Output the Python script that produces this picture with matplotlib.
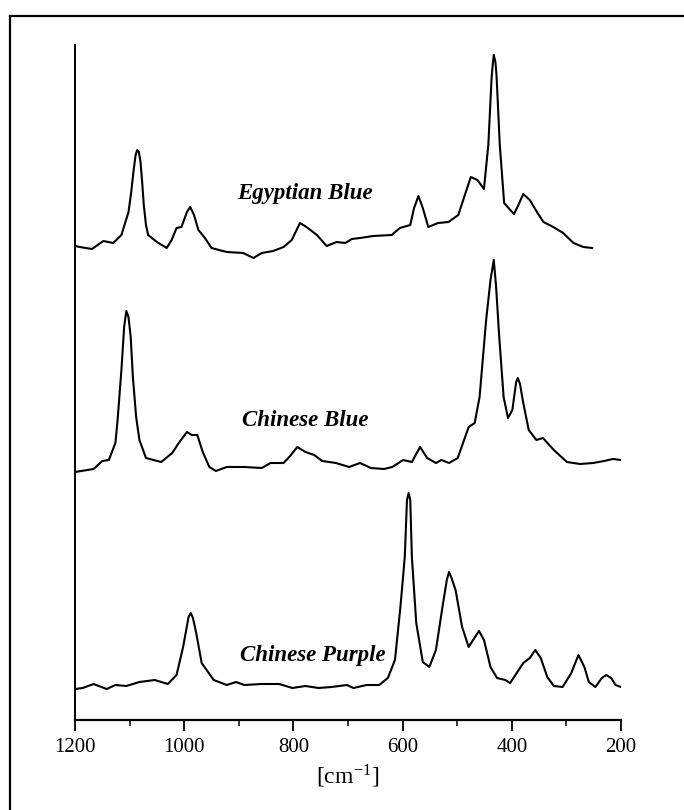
import matplotlib
matplotlib.use("Agg")
import matplotlib.pyplot as plt
from matplotlib.lines import Line2D
from matplotlib.ticker import MultipleLocator

plt.rcParams.update({
    "font.family": "Liberation Serif",
    "mathtext.fontset": "stix",
})

# Raman spectra (wavenumber in cm^-1, intensity in arb. units)
egyptian_wn = [1200, 1191, 1169, 1148, 1130, 1115, 1102, 1097, 1093, 1089, 1086, 1083,
               1080, 1077, 1074, 1070, 1066, 1050, 1032, 1023, 1014, 1005, 995, 989,
               982, 974, 962, 950, 922, 892, 873, 858, 837, 818, 803, 788, 776, 757,
               739, 721, 705, 693, 678, 654, 620, 605, 586, 579, 571, 563, 553, 535,
               516, 498, 486, 475, 463, 451, 443, 437, 435, 433, 430, 428, 422, 414,
               406, 396, 388, 379, 367, 354, 342, 324, 306, 287, 269, 253]
egyptian_int = [474, 473, 471, 479, 477, 485, 508, 528, 548, 565, 570, 568, 558, 538,
                515, 495, 485, 478, 472, 480, 492, 493, 508, 513, 505, 490, 482, 472,
                468, 467, 462, 467, 469, 473, 480, 497, 493, 485, 474, 478, 477, 481,
                482, 484, 485, 492, 495, 512, 524, 512, 493, 497, 498, 505, 525, 543,
                540, 531, 575, 642, 655, 665, 658, 645, 575, 517, 512, 506, 515, 526,
                520, 508, 498, 493, 487, 477, 473, 472]

chinese_blue_wn = [1200, 1166, 1150, 1138, 1126, 1122, 1115, 1110, 1106, 1102, 1098,
                   1094, 1088, 1082, 1070, 1042, 1022, 1010, 995, 986, 976, 966, 954,
                   942, 922, 890, 858, 842, 818, 806, 793, 778, 762, 747, 722, 698, 678,
                   658, 634, 619, 599, 583, 568, 555, 539, 529, 515, 499, 479, 468, 459,
                   447, 439, 433, 429, 423, 415, 407, 399, 392, 389, 385, 379, 369, 355,
                   343, 323, 299, 275, 251, 231, 215, 200]
chinese_blue_int = [248, 251, 259, 260, 277, 300, 350, 393, 409, 403, 383, 343, 303,
                    280, 262, 258, 267, 277, 288, 285, 285, 268, 253, 249, 253, 253,
                    252, 257, 257, 264, 273, 268, 265, 259, 257, 253, 257, 252, 251,
                    253, 260, 258, 273, 262, 257, 260, 257, 262, 293, 297, 323, 400,
                    440, 460, 435, 383, 323, 302, 310, 338, 342, 336, 317, 290, 280,
                    282, 270, 258, 256, 257, 259, 261, 260]

purple_wn = [1200, 1186, 1166, 1142, 1126, 1106, 1082, 1054, 1030, 1014, 1002, 992,
             988, 984, 978, 968, 946, 922, 905, 890, 858, 826, 802, 778, 754, 730, 702,
             690, 666, 643, 627, 614, 604, 596, 592, 589, 586, 583, 575, 563, 551, 539,
             527, 519, 515, 511, 503, 491, 479, 471, 460, 451, 439, 427, 412, 403, 391,
             379, 367, 357, 347, 335, 323, 307, 291, 278, 267, 259, 247, 235, 227, 218,
             210, 200]
purple_int = [31, 32, 36, 31, 35, 34, 38, 40, 36, 45, 73, 103, 107, 102, 87, 57, 40,
              35, 38, 35, 36, 36, 32, 34, 32, 33, 35, 32, 35, 35, 42, 60, 113, 163, 220,
              227, 220, 163, 97, 58, 53, 70, 113, 140, 148, 143, 130, 93, 73, 80, 89,
              80, 53, 42, 40, 37, 47, 57, 62, 70, 62, 43, 34, 33, 47, 65, 53, 38, 33,
              42, 45, 42, 35, 33]

labels = ["Egyptian Blue", "Chinese Blue", "Chinese Purple"]
label_wn = [779, 779, 764]
label_int = [527, 300, 65]

fig = plt.figure(figsize=(6.84, 8.10), dpi=100)
ax = fig.add_axes([75 / 684, 90 / 810, 546 / 684, 675 / 810])

for wn, inten in [(egyptian_wn, egyptian_int), (chinese_blue_wn, chinese_blue_int),
                  (purple_wn, purple_int)]:
    ax.plot(wn, inten, color="black", lw=1.5, solid_joinstyle="round")

for txt, x, y in zip(labels, label_wn, label_int):
    ax.text(x, y, txt, ha="center", va="center", fontsize=16.5,
            fontweight="bold", fontstyle="italic")

ax.set_xlim(1200, 200)
ax.set_ylim(0, 675)
ax.xaxis.set_major_locator(MultipleLocator(200))
ax.xaxis.set_minor_locator(MultipleLocator(100))
ax.tick_params(axis="x", which="major", direction="out", length=8, width=1.3,
               labelsize=15, pad=5)
ax.tick_params(axis="x", which="minor", direction="out", length=4, width=1.1)
ax.set_yticks([])
ax.spines["top"].set_visible(False)
ax.spines["right"].set_visible(False)
ax.spines["left"].set_linewidth(1.4)
ax.spines["bottom"].set_linewidth(1.6)
ax.set_xlabel(r"[cm$^{\mathregular{-1}}$]", fontsize=17, labelpad=4)

# outer frame (left and top edges visible)
fig.add_artist(Line2D([9.5 / 684, 9.5 / 684], [0, 1 - 15.5 / 810], color="black",
                      lw=1.6, transform=fig.transFigure))
fig.add_artist(Line2D([9.5 / 684, 1], [1 - 15.5 / 810, 1 - 15.5 / 810], color="black",
                      lw=1.6, transform=fig.transFigure))

fig.savefig("out.png", dpi=100)
